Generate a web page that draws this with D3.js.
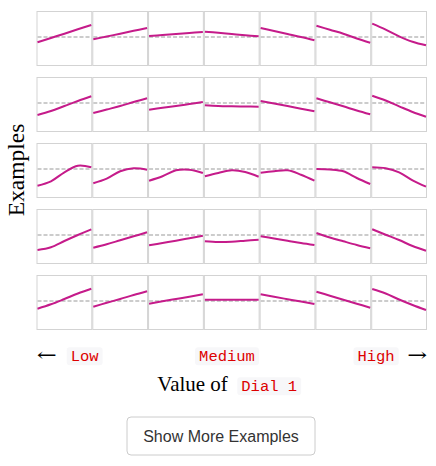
<!DOCTYPE html>
<html>
<head>
<meta charset="utf-8">
<script src="https://cdn.jsdelivr.net/npm/d3@7"></script>
<style>
  html, body { margin: 0; padding: 0; background: #fff; }
  svg { display: block; }
</style>
</head>
<body>
<svg id="chart" width="436" height="466"></svg>
<script>
// ---- data (0 = dashed reference line) ----
const dialLabels = ["Low", "Medium", "High"];
const samplePositions = [0, 0.25, 0.5, 0.75, 1];
const row1 = [
  [-5.3, -1, 3.3, 7.7, 12],
  [-2.3, 0.5, 3.3, 6.2, 9],
  [1, 2, 3, 4, 5],
  [5.3, 4.2, 3, 1.8, 0.7],
  [9, 6, 3, 0, -3.3],
  [11.3, 7.2, 3.3, -1.5, -5.7],
  [13.3, 7.3, 0.7, -4.7, -8.3]
];
const row2 = [
  [-12, -8, -3, 2, 6.7],
  [-10, -6.5, -3, 1, 4.7],
  [-6.7, -4.8, -3, -1, 1],
  [-2.3, -3, -3.3, -3.5, -3.7],
  [2, -0.5, -3, -5.7, -8.3],
  [4.7, 0.7, -3.3, -7.5, -11.3],
  [7.3, 2.5, -3.3, -9, -13.7]
];
const row3 = [
  [-16.7, -12.3, -3.3, 3.3, 1.7],
  [-14.3, -9.7, -2.3, 0.7, -0.7],
  [-11.7, -7.3, -1.3, -0.7, -4],
  [-7.3, -4, -1.3, -3, -7.7],
  [-3.7, -2.3, -1.3, -5.7, -11.7],
  [0, -0.5, -2.3, -9, -15],
  [1.7, 0.7, -3.3, -11.3, -17.7]
];
const row4 = [
  [-15, -12.3, -6, 0, 5.7],
  [-12.7, -9.3, -5.3, -1.3, 2.7],
  [-10.3, -8, -5.7, -3.2, -0.7],
  [-6.3, -7, -6.7, -5.7, -4.7],
  [-1.3, -3.5, -5.7, -8, -10],
  [2, -2.5, -6.3, -10, -13.3],
  [5.7, 0.3, -5, -11, -15.7]
];
const row5 = [
  [-7.7, -3.3, 2, 7.5, 12.3],
  [-5.7, -1.8, 2, 6, 9.7],
  [-2.7, -0.3, 2, 4.3, 6.7],
  [1.3, 1.3, 1.3, 1.3, 1.3],
  [6.7, 4.2, 1.8, -0.6, -3],
  [9.3, 5.3, 1.3, -2.7, -6.7],
  [12, 7.5, 1.5, -4, -9]
];
const examples = [row1, row2, row3, row4, row5];
const yTitle = "Examples";
const xTitle = "Value of";
const dialName = "Dial 1";
const buttonLabel = "Show More Examples";

// ---- layout ----
const svg = d3.select("#chart");
const nCols = 7;
const colScale = d3.scaleBand().domain(d3.range(nCols)).range([36.5, 427]).paddingInner(0);
const rowScale = d3.scaleBand().domain(d3.range(examples.length)).range([11, 330]).paddingInner(11 / 66);
const cw = colScale.bandwidth();
const ch = rowScale.bandwidth();
const xInner = d3.scaleLinear().domain([0, 1]).range([1, cw - 1]);
const yInner = d3.scaleLinear().domain([-29, 26]).range([ch, 0]);

const lineGen = d3.line()
  .x((d, i) => xInner(samplePositions[i]))
  .y(d => yInner(d))
  .curve(d3.curveCatmullRom.alpha(0.5));

examples.forEach((row, r) => {
  row.forEach((vals, c) => {
    const g = svg.append("g")
      .attr("transform", `translate(${colScale(c)},${rowScale(r)})`);
    g.append("rect")
      .attr("x", 0.5).attr("y", 0.5)
      .attr("width", cw - 1).attr("height", ch - 1)
      .attr("fill", "#fff")
      .attr("stroke", "#d3d3d3")
      .attr("stroke-width", 1);
    g.append("line")
      .attr("x1", 1).attr("x2", cw - 1)
      .attr("y1", yInner(0)).attr("y2", yInner(0))
      .attr("stroke", "#cccccc")
      .attr("stroke-width", 2)
      .attr("stroke-dasharray", "4,2");
    g.append("path")
      .datum(vals)
      .attr("d", lineGen)
      .attr("fill", "none")
      .attr("stroke", "#c51b8a")
      .attr("stroke-width", 2);
  });
});

// y title
svg.append("text")
  .attr("transform", "translate(24,170) rotate(-90)")
  .attr("text-anchor", "middle")
  .attr("font-family", "'Liberation Serif', 'Times New Roman', serif")
  .attr("font-size", 23.5)
  .attr("fill", "#000")
  .text(yTitle);

// code badge helper
function badge(x, y, label, anchor) {
  const g = svg.append("g");
  const t = g.append("text")
    .attr("font-family", "'Liberation Mono', 'Courier New', monospace")
    .attr("font-size", 15.5)
    .attr("fill", "#d00")
    .attr("dominant-baseline", "central")
    .text(label);
  const w = t.node().getComputedTextLength() + 8;
  let left = x;
  if (anchor === "middle") left = x - w / 2;
  if (anchor === "end") left = x - w;
  g.insert("rect", "text")
    .attr("x", left).attr("y", y - 9)
    .attr("width", w).attr("height", 18)
    .attr("rx", 3)
    .attr("fill", "#f7f7f9");
  t.attr("x", left + 4).attr("y", y + 1);
}

// arrows (text, stretched horizontally)
function arrow(x, glyph, anchor) {
  const t = svg.append("text")
    .attr("x", 0).attr("y", 0)
    .attr("text-anchor", anchor)
    .attr("dominant-baseline", "central")
    .attr("font-family", "'DejaVu Serif', serif")
    .attr("font-size", 18)
    .attr("fill", "#000")
    .text(glyph);
  const w = t.node().getComputedTextLength();
  const sx = 20 / w;
  t.attr("transform", `translate(${x},355) scale(${sx},1)`);
}
arrow(36.7, "\u2190", "start");
arrow(427.3, "\u2192", "end");

badge(66.7, 356.3, dialLabels[0], "start");
badge(227, 356.3, dialLabels[1], "middle");
badge(398.7, 356.3, dialLabels[2], "end");

// x title
svg.append("text")
  .attr("x", 157.3).attr("y", 391)
  .attr("font-family", "'Liberation Serif', 'Times New Roman', serif")
  .attr("font-size", 21)
  .attr("fill", "#000")
  .text(xTitle);
badge(237.3, 386.3, dialName, "start");

// button
svg.append("rect")
  .attr("x", 127).attr("y", 417)
  .attr("width", 188).attr("height", 38)
  .attr("rx", 4)
  .attr("fill", "#fff")
  .attr("stroke", "#ccc")
  .attr("stroke-width", 1);
svg.append("text")
  .attr("x", 221).attr("y", 436.5)
  .attr("text-anchor", "middle")
  .attr("dominant-baseline", "central")
  .attr("font-family", "'Liberation Sans', Arial, Helvetica, sans-serif")
  .attr("font-size", 16)
  .attr("fill", "#333")
  .text(buttonLabel);
</script>
</body>
</html>
